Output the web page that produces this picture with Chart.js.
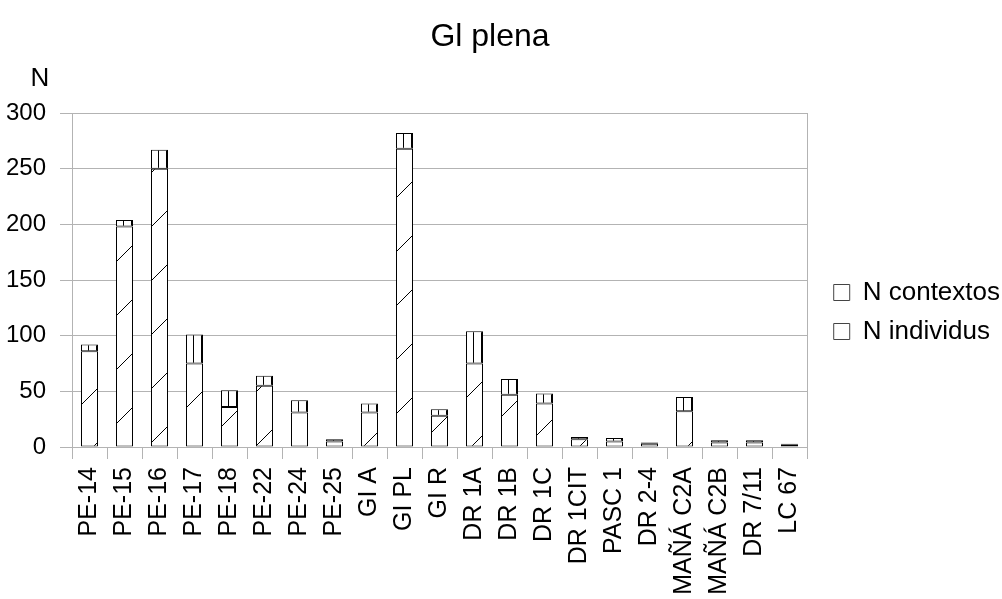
<!DOCTYPE html>
<html>
<head>
<meta charset="utf-8">
<script src="https://cdn.jsdelivr.net/npm/chart.js@4"></script>
<style>
  html, body { margin: 0; padding: 0; background: #fff; }
  #wrap { width: 1002px; height: 599px; }
</style>
</head>
<body>
<div id="wrap"><canvas id="c" width="1002" height="599"></canvas></div>
<script>
const categories = ['PE-14','PE-15','PE-16','PE-17','PE-18','PE-22','PE-24','PE-25','GI A','GI PL','GI R','DR 1A','DR 1B','DR 1C','DR 1CIT','PASC 1','DR 2-4','MAÑÁ C2A','MAÑÁ C2B','DR 7/11','LC 67'];
const nIndividus = [86,198,250,75,36,55,31,5,31,268,28,75,47,39,7,5,3,32,4,4,2];
const nContextos = [6,6,17,26,15,9,11,2,8,14,6,29,14,9,2,3,1,13,2,2,1];
const yTicks = [0,50,100,150,200,250,300];
const titleText = 'Gl plena';
const yLabel = 'N';

const FONT = "'Liberation Sans', Arial, sans-serif";
const GRID = '#b3b3b3';
const BAR_PCT = 17 / 35;
const PAD_R = -8;
const PLOT_RIGHT = 807;

function diagPattern() {
  const s = 54;
  const c = document.createElement('canvas');
  c.width = s; c.height = s;
  const g = c.getContext('2d');
  g.fillStyle = '#fff'; g.fillRect(0,0,s,s);
  g.strokeStyle = '#000'; g.lineWidth = 1;
  g.beginPath(); g.moveTo(-2, s+2); g.lineTo(s+2, -2); g.stroke();
  return g.createPattern(c, 'repeat');
}
const diagCanvasPattern = diagPattern();

function vertTile() {
  const c = document.createElement('canvas');
  c.width = 8; c.height = 8;
  const g = c.getContext('2d');
  g.fillStyle = '#fff'; g.fillRect(0,0,8,8);
  g.fillStyle = '#000'; g.fillRect(7,0,1,8);
  return c;
}
const vTile = vertTile();
const vertDefault = document.getElementById('c').getContext('2d').createPattern(vTile, 'repeat');

function vertPattern(context) {
  const chart = context.chart;
  if (context.dataIndex === undefined || !chart.scales || !chart.scales.x) return vertDefault;
  const xs = chart.scales.x;
  const center = xs.getPixelForValue(context.dataIndex);
  const bw = xs.width / categories.length * BAR_PCT;
  const left = Math.round(center - bw / 2);
  const p = chart.ctx.createPattern(vTile, 'repeat');
  if (p.setTransform) p.setTransform(new DOMMatrix().translate(left, 0));
  return p;
}

const yLabelPlugin = {
  id: 'yLabel',
  afterDraw(chart) {
    const ca = chart.chartArea;
    const g = chart.ctx;
    g.save();
    g.font = '26px ' + FONT;
    g.fillStyle = '#000';
    g.textAlign = 'center';
    g.textBaseline = 'alphabetic';
    g.fillText(yLabel, ca.left - 32, ca.top - 27);
    g.restore();
  }
};

new Chart(document.getElementById('c'), {
  type: 'bar',
  data: {
    labels: categories,
    datasets: [
      {
        label: 'N individus',
        data: nIndividus,
        backgroundColor: diagCanvasPattern,
        borderColor: '#000',
        borderWidth: 1,
        borderSkipped: false,
        barPercentage: BAR_PCT,
        categoryPercentage: 1.0
      },
      {
        label: 'N contextos',
        data: nContextos,
        backgroundColor: vertPattern,
        borderColor: '#000',
        borderWidth: 1,
        borderSkipped: false,
        barPercentage: BAR_PCT,
        categoryPercentage: 1.0
      }
    ]
  },
  options: {
    responsive: false,
    animation: false,
    devicePixelRatio: 1,
    layout: { padding: { top: 25, left: -30, right: PAD_R, bottom: 0 } },
    plugins: {
      title: {
        display: true,
        text: titleText,
        color: '#000',
        font: { family: FONT, size: 32, weight: 'normal', lineHeight: 1.2 },
        padding: { top: -7, bottom: 56.6 }
      },
      legend: {
        position: 'right',
        maxWidth: 220,
        labels: {
          font: { family: FONT, size: 26 },
          color: '#000',
          boxWidth: 16,
          boxHeight: 16,
          padding: 13,
          generateLabels(chart) {
            return chart.data.datasets.map((ds, i) => ({
              text: ds.label,
              fillStyle: '#fff',
              strokeStyle: '#444',
              lineWidth: 1,
              hidden: false,
              datasetIndex: i,
              fontColor: '#000'
            })).reverse();
          }
        }
      },
      tooltip: { enabled: false }
    },
    scales: {
      x: {
        stacked: true,
        offset: true,
        grid: { display: true, drawOnChartArea: false, drawTicks: true, tickLength: 12, color: GRID, offset: true },
        border: { display: true, color: GRID },
        ticks: {
          autoSkip: false,
          minRotation: 90,
          maxRotation: 90,
          padding: 8,
          color: '#000',
          font: { family: FONT, size: 25 }
        },
        afterFit(s) { s.height = 152; }
      },
      y: {
        stacked: true,
        min: 0,
        max: 300,
        grid: { color: GRID, tickLength: 12, drawTicks: true },
        border: { display: true, color: GRID },
        ticks: {
          stepSize: 50,
          padding: 14,
          color: '#000',
          font: { family: FONT, size: 24 },
          callback: (v) => yTicks.includes(v) ? String(v) : null
        },
        afterFit(s) { s.width = 102; }
      },
      y2: {
        position: 'right',
        display: true,
        grid: { display: false },
        ticks: { display: false },
        border: { display: true, color: GRID },
        afterFit(s) {
          const lw = (s.chart.legend && s.chart.legend.width) ? s.chart.legend.width : 189;
          s.width = Math.max(0, (1002 - PAD_R - PLOT_RIGHT) - lw);
        }
      }
    }
  },
  plugins: [yLabelPlugin]
});
</script>
</body>
</html>
